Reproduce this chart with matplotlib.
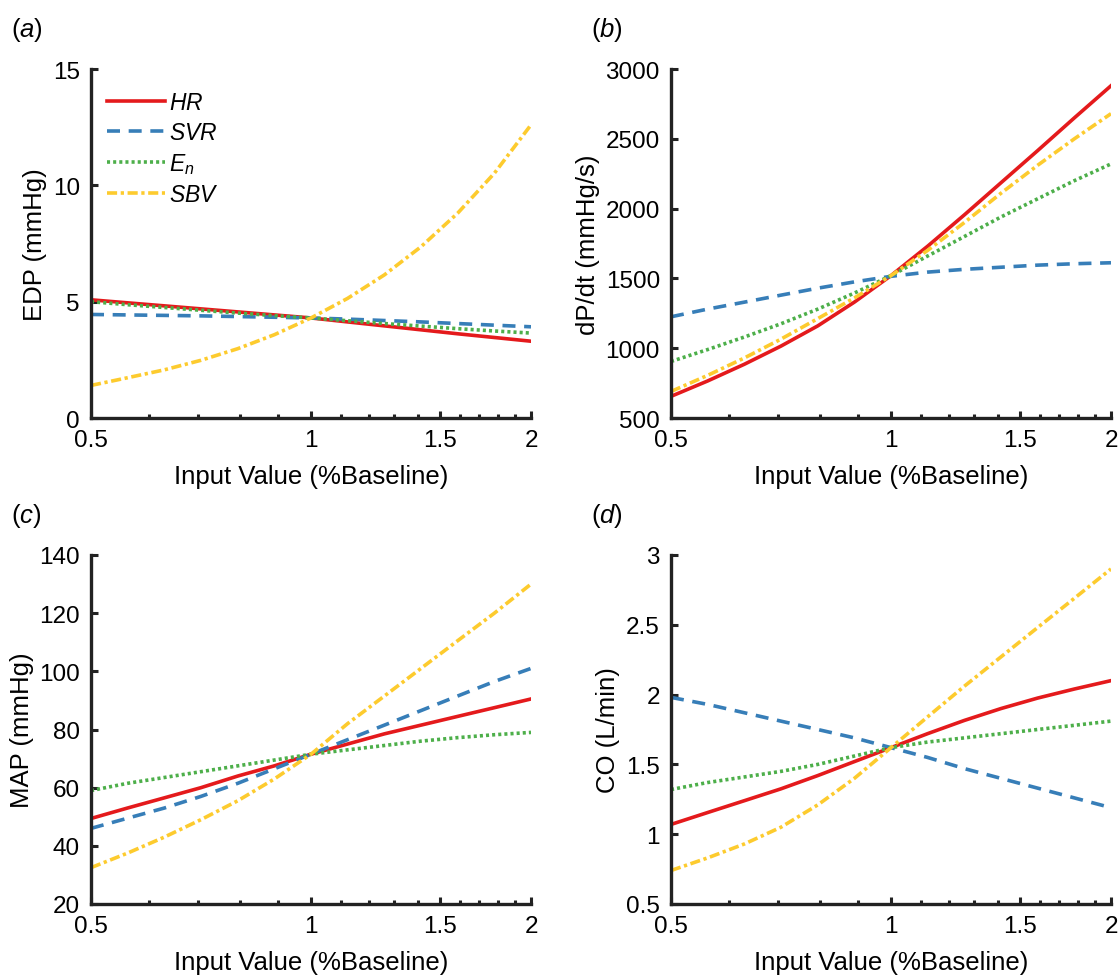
import numpy as np
import matplotlib.pyplot as plt
from matplotlib.ticker import FixedLocator, NullFormatter

plt.rcParams['font.family'] = ['Liberation Sans', 'DejaVu Sans']
plt.rcParams['mathtext.fontset'] = 'custom'
plt.rcParams['mathtext.it'] = 'Liberation Sans:italic'
plt.rcParams['mathtext.rm'] = 'Liberation Sans'

# input value (fraction of baseline), steps of 2^(1/6)
x = [0.5, 0.561, 0.630, 0.707, 0.794, 0.891, 1.0, 1.122, 1.260, 1.414, 1.587, 1.782, 2.0]

# (a) EDP (mmHg)
edp_hr = [5.08, 4.95, 4.82, 4.69, 4.56, 4.43, 4.3, 4.13, 3.96, 3.79, 3.62, 3.46, 3.3]
edp_svr = [4.45, 4.43, 4.41, 4.39, 4.36, 4.33, 4.3, 4.25, 4.19, 4.13, 4.06, 3.99, 3.92]
edp_en = [5.0, 4.87, 4.75, 4.63, 4.51, 4.4, 4.3, 4.18, 4.06, 3.95, 3.84, 3.74, 3.65]
edp_sbv = [1.4, 1.73, 2.07, 2.48, 2.98, 3.58, 4.3, 5.14, 6.15, 7.36, 8.8, 10.52, 12.6]

# (b) dP/dt (mmHg/s)
dpdt_hr = [655, 765, 885, 1015, 1160, 1330, 1520, 1730, 1955, 2185, 2415, 2650, 2880]
dpdt_svr = [1225, 1280, 1330, 1380, 1430, 1475, 1515, 1545, 1565, 1580, 1595, 1605, 1612]
dpdt_en = [905, 990, 1080, 1175, 1280, 1395, 1520, 1660, 1800, 1940, 2070, 2200, 2320]
dpdt_sbv = [690, 805, 930, 1065, 1212, 1360, 1520, 1700, 1900, 2110, 2310, 2500, 2680]

# (c) MAP (mmHg)
map_hr = [49.4, 53, 56.5, 60, 64, 67.5, 71.5, 75, 78.5, 81.5, 84.5, 87.5, 90.5]
map_svr = [46, 49.5, 53, 57, 61.5, 66.5, 71.5, 76.5, 81.5, 86.5, 91.5, 96.5, 101]
map_en = [59, 61.5, 63.5, 65.5, 67.5, 69.5, 71.5, 73, 74.5, 76, 77.2, 78.2, 79]
map_sbv = [32.5, 37.5, 43, 49, 55.5, 63, 71.5, 82, 91.5, 101, 110.5, 120, 130]

# (d) CO (L/min)
co_hr = [1.07, 1.155, 1.24, 1.325, 1.42, 1.52, 1.62, 1.72, 1.815, 1.9, 1.975, 2.04, 2.1]
co_svr = [1.98, 1.93, 1.87, 1.81, 1.75, 1.69, 1.62, 1.55, 1.47, 1.4, 1.33, 1.26, 1.19]
co_en = [1.32, 1.37, 1.41, 1.45, 1.5, 1.56, 1.62, 1.66, 1.69, 1.72, 1.75, 1.78, 1.81]
co_sbv = [0.74, 0.83, 0.93, 1.05, 1.21, 1.4, 1.62, 1.84, 2.06, 2.27, 2.48, 2.69, 2.9]

names = ['$\\it{HR}$', '$\\it{SVR}$', '$\\it{E_n}$', '$\\it{SBV}$']
colors = ['#e41a1c', '#377eb8', '#4daf4a', '#fdcb2e']
styles = ['-', (0, (3.6, 2.4)), (0, (0.85, 0.85)), (0, (2.8, 1.0, 0.9, 1.0))]

panels = [
    ('a', 'EDP (mmHg)', [edp_hr, edp_svr, edp_en, edp_sbv], (0, 15), [0, 5, 10, 15]),
    ('b', 'dP/dt (mmHg/s)', [dpdt_hr, dpdt_svr, dpdt_en, dpdt_sbv], (500, 3000),
     [500, 1000, 1500, 2000, 2500, 3000]),
    ('c', 'MAP (mmHg)', [map_hr, map_svr, map_en, map_sbv], (20, 140),
     [20, 40, 60, 80, 100, 120, 140]),
    ('d', 'CO (L/min)', [co_hr, co_svr, co_en, co_sbv], (0.5, 3),
     [0.5, 1, 1.5, 2, 2.5, 3]),
]

fig = plt.figure(figsize=(11.19, 9.78), dpi=100)
W, H = 1119, 978
boxes = [(91, 70), (671, 70), (91, 556), (671, 556)]
aw, ah = 440, 349

minor = [0.6, 0.7, 0.8, 0.9, 1.1, 1.2, 1.3, 1.4, 1.6, 1.7, 1.8, 1.9]

for (letter, ylab, series, ylim, yt), (l, t) in zip(panels, boxes):
    ax = fig.add_axes([l / W, 1 - (t + ah) / H, aw / W, ah / H])
    for ys, c, ls, nm in zip(series, colors, styles, names):
        ax.plot(x, ys, color=c, linestyle=ls, linewidth=2.6, label=nm)
    ax.set_xscale('log')
    ax.set_xlim(0.5, 2)
    ax.set_ylim(*ylim)
    ax.xaxis.set_major_locator(FixedLocator([0.5, 1, 1.5, 2]))
    ax.xaxis.set_minor_locator(FixedLocator(minor))
    ax.set_xticklabels(['0.5', '1', '1.5', '2'])
    ax.xaxis.set_minor_formatter(NullFormatter())
    ax.set_yticks(yt)
    ax.set_yticklabels([f'{v:g}' for v in yt])
    for s in ['top', 'right']:
        ax.spines[s].set_visible(False)
    for s in ['left', 'bottom']:
        ax.spines[s].set_linewidth(2.4)
        ax.spines[s].set_color('#222222')
    ax.tick_params(which='major', direction='in', length=5, width=2.2,
                   labelsize=17.5, color='#222222', pad=8)
    ax.tick_params(which='minor', direction='in', length=3, width=2.2,
                   color='#222222')
    ax.set_xlabel('Input Value (%Baseline)', fontsize=18.5, labelpad=9)
    ax.set_ylabel(ylab, fontsize=18.5, labelpad=4)
    fig.text((l - 80) / W, 1 - (t - 40) / H, f'(${{\\it{{{letter}}}}}$)',
             fontsize=18.5, va='center', ha='left')
    if letter == 'a':
        ax.legend(loc='upper left', bbox_to_anchor=(-0.01, 0.995), frameon=False,
                  fontsize=16.5, handlelength=2.5, handletextpad=0.2,
                  labelspacing=0.3)

fig.savefig('out.png', dpi=100)
